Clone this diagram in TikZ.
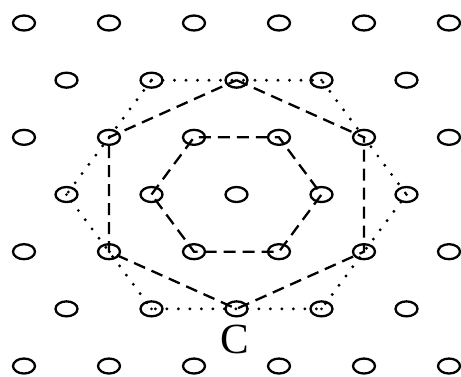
\documentclass[tikz,border=0pt]{standalone}
\usepackage{fontspec}
\newfontfamily\labfont{Liberation Serif}
\usetikzlibrary{shapes.geometric}
\tikzset{
  site/.style={draw, ellipse, line width=2.3pt, minimum width=22pt, minimum height=15pt, inner sep=0pt},
  hexline/.style={line width=2.3pt, dash pattern=on 12pt off 7pt},
  dotline/.style={line width=3.2pt, line cap=round, dash pattern=on 0pt off 11.5pt},
  cdot/.style={circle, fill, inner sep=0pt, minimum size=3pt},
  lab/.style={font=\labfont\fontsize{43}{43}\selectfont, inner sep=0pt}
}
\begin{document}
\begin{tikzpicture}[x=1pt,y=-1pt]
\useasboundingbox (0,0) rectangle (461,376);
% lattice
\foreach \r in {0,2,4,6} {
  \foreach \k in {0,...,5} {
    \node[site] (s-\r-\k) at ({24+85*\k},{23+57.17*\r}) {};
  }
}
\foreach \r in {1,3,5} {
  \foreach \k in {0,...,4} {
    \node[site] (s-\r-\k) at ({66.5+85*\k},{23+57.17*\r}) {};
  }
}
% inner hexagon (first neighbours)
\draw[hexline] (s-3-1.center) -- (s-2-2.center) -- (s-2-3.center) -- (s-3-3.center)
  -- (s-4-3.center) -- (s-4-2.center) -- cycle;
% second hexagon
\draw[hexline] (s-1-2.center) -- (s-2-4.center) -- (s-4-4.center) -- (s-5-2.center)
  -- (s-4-1.center) -- (s-2-1.center) -- cycle;
% dotted hexagon
\draw[dotline] (s-1-1.center) -- (s-1-3.center) -- (s-3-4.center) -- (s-5-3.center)
  -- (s-5-1.center) -- (s-3-0.center) -- cycle;
% centre dots
\foreach \n in {s-1-1,s-1-3,s-3-4,s-5-3,s-5-1,s-3-0} {
  \node[cdot] at (\n.center) {};
}
% label
\node[lab] (c) at (235,339) {C};
\end{tikzpicture}
\end{document}
